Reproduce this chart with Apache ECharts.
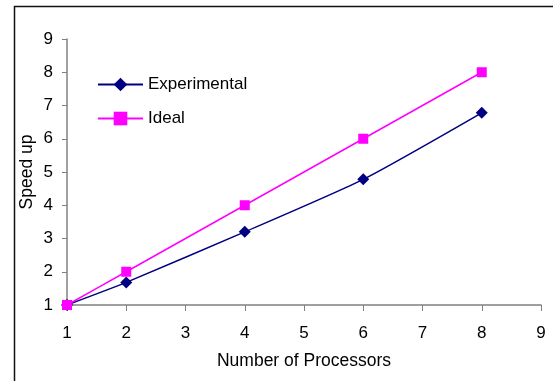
<!DOCTYPE html>
<html><head><meta charset="utf-8">
<script src="https://cdn.jsdelivr.net/npm/echarts@6/dist/echarts.min.js"></script>
<style>html,body{margin:0;padding:0;background:#fff}#c{width:553px;height:381px}</style>
</head><body><div id="c"></div>
<script>
const processors = [1, 2, 4, 6, 8];
const experimental = [1, 1.68, 3.2, 4.78, 6.78];
const ideal = [1, 2, 4, 6, 8];
const xTicks = [1, 2, 3, 4, 5, 6, 7, 8, 9];
const yTicks = [1, 2, 3, 4, 5, 6, 7, 8, 9];

const font = 'Liberation Sans, Arial, sans-serif';
const fs = 17;
const chart = echarts.init(document.getElementById('c'));
chart.setOption({
  animation: false,
  backgroundColor: '#fff',
  graphic: [{
    type: 'rect', left: 12, top: 4, z: 100,
    shape: {x: 0, y: 0, width: 600, height: 420},
    style: {fill: 'none', stroke: '#111', lineWidth: 1.5}
  }],
  grid: {left: 67, right: 12, top: 39, bottom: 76},
  legend: {
    orient: 'vertical', left: 92, top: 71,
    itemWidth: 45, itemHeight: 17, itemGap: 17,
    textStyle: {fontFamily: font, fontSize: fs, color: '#000'},
    data: ['Experimental', 'Ideal']
  },
  xAxis: {
    type: 'value', min: xTicks[0], max: xTicks[xTicks.length - 1], interval: 1,
    name: 'Number of Processors', nameLocation: 'middle', nameGap: 47,
    nameMoveOverlap: false,
    nameTextStyle: {fontFamily: font, fontSize: 17.5, color: '#000'},
    axisLine: {lineStyle: {color: '#808080', width: 1.5}},
    axisTick: {length: 6, lineStyle: {color: '#808080'}},
    axisLabel: {fontFamily: font, fontSize: fs, color: '#000', margin: 20},
    splitLine: {show: false}
  },
  yAxis: {
    type: 'value', min: yTicks[0], max: yTicks[yTicks.length - 1], interval: 1,
    name: 'Speed up', nameLocation: 'middle', nameGap: 31,
    nameMoveOverlap: false,
    nameTextStyle: {fontFamily: font, fontSize: 17.5, color: '#000'},
    axisLine: {show: true, lineStyle: {color: '#808080', width: 1.5}},
    axisTick: {show: true, length: 5, lineStyle: {color: '#808080'}},
    axisLabel: {fontFamily: font, fontSize: fs, color: '#000', margin: 14},
    splitLine: {show: false}
  },
  series: [
    {
      name: 'Experimental', type: 'line', smooth: 0.2,
      data: processors.map((p, i) => [p, experimental[i]]),
      symbol: 'diamond', symbolSize: 12,
      lineStyle: {color: '#000080', width: 1.5},
      itemStyle: {color: '#000080'}
    },
    {
      name: 'Ideal', type: 'line', smooth: 0.2,
      data: processors.map((p, i) => [p, ideal[i]]),
      symbol: 'rect', symbolSize: 10,
      lineStyle: {color: '#FF00FF', width: 1.5},
      itemStyle: {color: '#FF00FF'}
    }
  ]
});
</script></body></html>
